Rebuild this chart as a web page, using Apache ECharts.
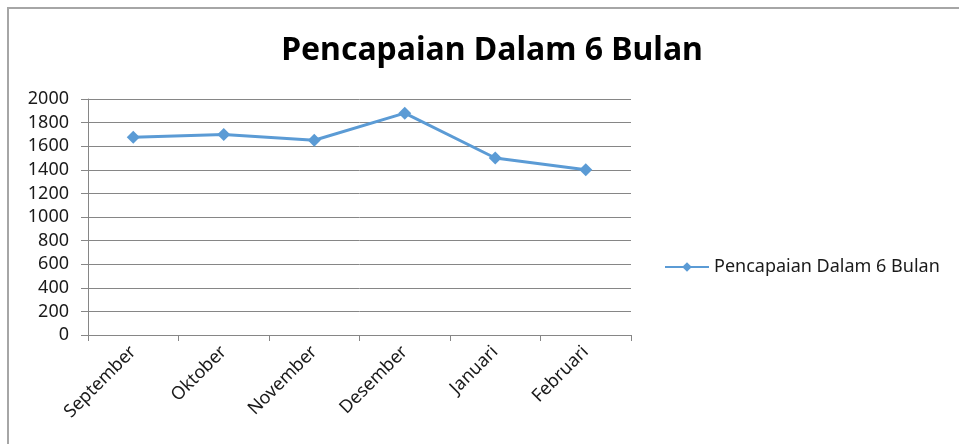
<!DOCTYPE html>
<html>
<head>
<meta charset="utf-8">
<script src="https://cdn.jsdelivr.net/npm/echarts@6/dist/echarts.min.js"></script>
<style>
  html, body { margin: 0; padding: 0; background: #fff; }
  #chart { width: 959px; height: 444px; }
  #frame {
    position: absolute; left: 7px; top: 7px; right: 0; bottom: 0;
    border-left: 2px solid #a6a6a6; border-top: 2px solid #a6a6a6;
    pointer-events: none;
  }
</style>
</head>
<body>
<div id="chart"></div>
<div id="frame"></div>
<script>
const titleText = 'Pencapaian Dalam 6 Bulan'
const months = ['September', 'Oktober', 'November', 'Desember', 'Januari', 'Februari']
const pencapaian = [1675, 1700, 1650, 1880, 1500, 1400]
const yMin = 0
const yMax = 2000
const yStep = 200

const chart = echarts.init(document.getElementById('chart'))
chart.setOption({
  animation: false,
  textStyle: { fontFamily: 'Noto Sans' },
  title: {
    text: titleText,
    left: 487,
    top: 30,
    textAlign: 'center',
    textStyle: { fontSize: 32, fontWeight: 'bold', color: '#000', fontFamily: 'Noto Sans' }
  },
  legend: {
    data: [titleText],
    orient: 'vertical',
    left: 659,
    top: 253,
    itemWidth: 44,
    itemHeight: 12,
    itemGap: 6,
    textStyle: { fontSize: 18, color: '#1a1a1a' }
  },
  grid: { left: 88, right: 328, top: 99, bottom: 109 },
  xAxis: {
    type: 'category',
    data: months,
    boundaryGap: true,
    axisLine: { lineStyle: { color: '#868686', width: 1 } },
    axisTick: { show: true, length: 6, lineStyle: { color: '#868686' } },
    axisLabel: { rotate: 45, fontSize: 18, color: '#1a1a1a', margin: 14 }
  },
  yAxis: {
    type: 'value',
    min: yMin,
    max: yMax,
    interval: yStep,
    axisLine: { show: true, lineStyle: { color: '#868686', width: 1 } },
    axisTick: { show: true, length: 7, lineStyle: { color: '#868686' } },
    axisLabel: { fontSize: 18, color: '#1a1a1a', margin: 19, formatter: v => String(v) },
    splitLine: { lineStyle: { color: '#868686', width: 1 } }
  },
  series: [{
    name: titleText,
    type: 'line',
    data: pencapaian,
    symbol: 'diamond',
    symbolSize: 13,
    lineStyle: { color: '#5b9bd5', width: 3 },
    itemStyle: { color: '#5b9bd5' }
  }]
})
</script>
</body>
</html>
